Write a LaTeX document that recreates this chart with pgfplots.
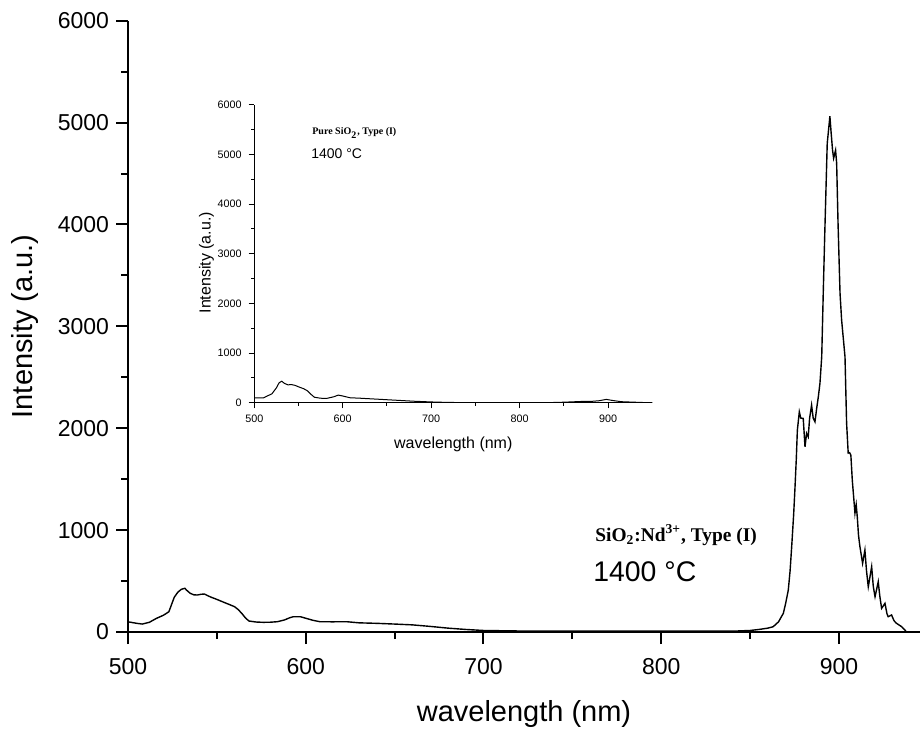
\documentclass[border=0pt]{standalone}
\usepackage{fontspec}
\setmainfont{Liberation Sans}
\newfontfamily\serifb{Liberation Serif}
\usepackage{pgfplots}
\pgfplotsset{compat=1.18}
\begin{document}
\begin{tikzpicture}
\begin{axis}[
  at={(0,0)}, anchor=south west, scale only axis,
  width=396pt, height=305.65pt,
  xmin=500, xmax=945.6, ymin=0, ymax=6000,
  axis lines=left, axis line style={-, line width=1.3pt},
  tick align=outside, major tick length=6pt, minor tick length=3.5pt,
  minor tick num=1,
  tick style={line width=1pt, black},
  xtick={500,600,700,800,900}, ytick={0,1000,2000,3000,4000,5000,6000},
  /pgf/number format/1000 sep={}, /pgf/number format/assume math mode=true,
  scaled y ticks=false,
  tick label style={font=\fontsize{11.5}{13}\selectfont},
  xticklabel style={yshift=-3.5pt},
  xlabel={wavelength (nm)}, ylabel={Intensity (a.u.)},
  label style={font=\fontsize{14.5}{16}\selectfont},
  xlabel style={at={(axis description cs:0.5,-0.134)}, anchor=center},
  ylabel style={at={(axis description cs:-0.13,0.5)}, anchor=center},
]
\addplot[black, line width=0.7pt] coordinates {
(500,100) (505,85) (508,78) (512,95) (516,134) (520,165) (523,199) (526,340) (528,390) (530,419) (532,429) (533,410) (535,380) (537,365) (539,363) (541,370) (543,373) (545,355) (547,340) (550,320) (554,291) (557,270) (560,248) (562,220) (564,183) (566,140) (568,108) (572,98) (576,95) (580,96) (584,101) (588,118) (591,140) (593,150) (597,150) (600,135) (604,115) (608,101) (615,100) (623,101) (630,90) (640,85) (650,78) (660,70) (670,55) (680,38) (690,25) (700,15) (720,10) (740,8) (760,8) (780,10) (800,10) (820,8) (840,8) (850,15) (855,25) (860,38) (863,52) (866,100) (868.7,183) (870,280) (871.5,412) (872.5,600) (873.4,837) (874.5,1150) (875.2,1393) (876,1700) (876.6,1982) (877.7,2161) (878.5,2100) (879.9,2096) (880.9,1818) (881.8,1950) (882.7,1916) (883.5,2100) (884.6,2227) (885.5,2100) (886.5,2063) (887.5,2200) (888.4,2309) (889.3,2440) (890.3,2701) (891.2,3355) (892,3900) (893.4,4795) (894.9,5062) (895.6,4900) (896.4,4729) (897,4650) (898.1,4729) (898.7,4601) (899.5,4000) (900.6,3326) (901.5,3061) (903.4,2701) (904.3,2050) (905.2,1756) (906,1760) (906.7,1736) (907.5,1491) (909,1167) (909.7,1250) (910.3,1131) (911,950) (911.8,837) (913.3,674) (914.6,804) (915.5,600) (916.5,444) (918.4,641) (919.3,450) (920.3,346) (922.1,493) (923,350) (924,232) (925.9,281) (927,180) (927.7,150) (929.6,167) (931,110) (932.4,85) (935.3,52) (938.1,0)
};
\node[anchor=west, font=\serifb\bfseries\fontsize{9.7}{12}\selectfont, inner sep=0pt] at (axis cs:762.7,952) {SiO\textsubscript{2}:Nd\textsuperscript{3+}, Type (I)};
\node[anchor=west, font=\fontsize{14.2}{16}\selectfont, inner sep=0pt] at (axis cs:761.6,589) {1400 °C};
\end{axis}
\begin{axis}[
  at={(63.15pt,114.65pt)}, anchor=south west, scale only axis,
  width=199pt, height=148.9pt,
  xmin=500, xmax=950, ymin=0, ymax=6000,
  axis lines=left, axis line style={-, line width=0.6pt},
  tick align=outside, major tick length=2.8pt, minor tick length=1.5pt,
  minor tick num=1,
  tick style={line width=0.5pt, black},
  xtick={500,600,700,800,900}, ytick={0,1000,2000,3000,4000,5000,6000},
  /pgf/number format/1000 sep={}, /pgf/number format/assume math mode=true,
  scaled y ticks=false,
  tick label style={font=\fontsize{5.4}{6}\selectfont},
  xlabel={wavelength (nm)}, ylabel={Intensity (a.u.)},
  label style={font=\fontsize{8}{9}\selectfont},
  xlabel style={at={(axis description cs:0.5,-0.139)}, anchor=center},
  ylabel style={at={(axis description cs:-0.12,0.47)}, anchor=center},
]
\addplot[black, line width=0.5pt] coordinates {
(500,100) (510,95) (520,180) (525,300) (528,400) (531,433) (534,390) (538,360) (542,365) (546,350) (550,320) (556,280) (560,240) (564,170) (568,110) (575,90) (582,87) (590,120) (595,153) (600,135) (608,100) (620,90) (640,70) (660,50) (680,30) (700,15) (720,5) (750,0) (800,0) (830,0) (850,10) (870,25) (880,25) (890,40) (898,67) (905,45) (915,20) (930,10) (945,0) (950,0)
};
\node[anchor=west, font=\serifb\bfseries\fontsize{5}{6}\selectfont, inner sep=0pt] at (axis cs:565.2,5435) {Pure SiO\textsubscript{2}, Type (I)};
\node[anchor=west, font=\fontsize{7}{8}\selectfont, inner sep=0pt] at (axis cs:564,5022) {1400 °C};
\end{axis}
\pgfresetboundingbox
\useasboundingbox (-64pt,-48pt) rectangle (396pt,316pt);
\end{tikzpicture}
\end{document}
